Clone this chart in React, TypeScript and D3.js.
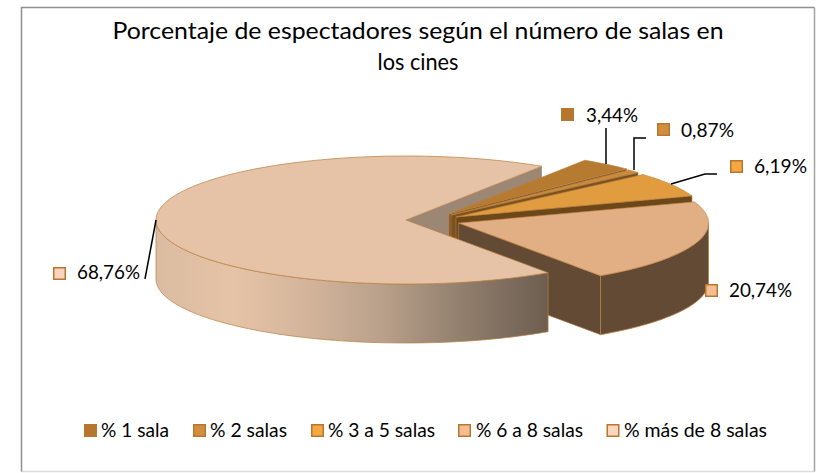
import React from "react";
import * as d3 from "d3";

const categories = ["% 1 sala", "% 2 salas", "% 3 a 5 salas", "% 6 a 8 salas", "% más de 8 salas"];
const values = [3.44, 0.87, 6.19, 20.74, 68.76];
const valueLabels = ["3,44%", "0,87%", "6,19%", "20,74%", "68,76%"];
const titleLines = ["Porcentaje de espectadores según el número de salas en", "los cines"];

const topColors = ["#b67b30", "#c98a3c", "#e29c40", "#e2ae83", "#e6c3a6"];
const wallColors = ["#7a5220", "#7a5220", "#6b4719", "#624a35", "#9c8674"];
const swatchColors = ["#b5762e", "#d18f3e", "#f5a742", "#f6bd92", "#fbd5bd"];

const FONT = "Lato, Carlito, 'Open Sans', sans-serif";
const RX = 250;
const RY = 64;
const DEPTH = 59;
const START = (32.9 * Math.PI) / 180;
const centers: [number, number][] = [
  [449, 214],
  [451, 215],
  [456, 217],
  [458.5, 223],
  [406, 220],
];
const labelBoxes = [
  { sx: 561, sy: 108, tx: 586, ty: 122, w: 52 },
  { sx: 657, sy: 123, tx: 681, ty: 137, w: 53 },
  { sx: 730, sy: 160, tx: 754, ty: 173, w: 53 },
  { sx: 705, sy: 284, tx: 729, ty: 297, w: 63 },
  { sx: 53, sy: 267, tx: 77, ty: 279, w: 63 },
];
const legendBoxes = [
  { sx: 84, tx: 101, w: 68 },
  { sx: 193, tx: 210, w: 77 },
  { sx: 311, tx: 328, w: 107 },
  { sx: 458, tx: 476, w: 107 },
  { sx: 606.5, tx: 624, w: 143 },
];
const titleWidths = [611, 81];
const leaders: [number, number][][] = [
  [[606, 128], [606, 164]],
  [[646, 138], [634, 138], [634, 170]],
  [[717, 174], [705, 174], [671, 184]],
  [[156, 220], [145, 279]],
];

const arcs = d3
  .pie<number>()
  .sort(null)
  .startAngle(START)
  .endAngle(START + 2 * Math.PI)(values);

const line = d3.line<[number, number]>();

function pt(i: number, a: number, dz = 0): [number, number] {
  const [cx, cy] = centers[i];
  return [cx + RX * Math.sin(a), cy - RY * Math.cos(a) + dz];
}
function rim(i: number, a0: number, a1: number, dz = 0): [number, number][] {
  const n = Math.max(2, Math.ceil(Math.abs(a1 - a0) * 40));
  return d3.range(n + 1).map((k) => pt(i, a0 + ((a1 - a0) * k) / n, dz));
}
function topPath(i: number) {
  const a = arcs[i];
  return line([centers[i], ...rim(i, a.startAngle, a.endAngle)]) + "Z";
}
function radialWall(i: number, a: number) {
  const [cx, cy] = centers[i];
  const p = pt(i, a);
  return line([[cx, cy], p, [p[0], p[1] + DEPTH], [cx, cy + DEPTH]]) + "Z";
}
function outerWall(i: number) {
  const a = arcs[i];
  const lo = Math.max(a.startAngle, Math.PI / 2);
  const hi = Math.min(a.endAngle, 1.5 * Math.PI);
  if (hi <= lo) return null;
  return line([...rim(i, lo, hi), ...rim(i, hi, lo, DEPTH)]) + "Z";
}

const EDGE = "#b8803f";

export default function App() {
  const main = 4;
  return (
    <svg
      width={825}
      height={473}
      viewBox="0 0 825 473"
      style={{ position: "absolute", left: 0, top: 0, background: "#fff" }}
      fontFamily={FONT}
    >
      <defs>
        <linearGradient id="mainWall" gradientUnits="userSpaceOnUse" x1={156} x2={547} y1={0} y2={0}>
          <stop offset="0" stopColor="#dbbca2" />
          <stop offset="0.2" stopColor="#e5c3a6" />
          <stop offset="0.39" stopColor="#d3b49b" />
          <stop offset="0.58" stopColor="#b9a08a" />
          <stop offset="0.75" stopColor="#978472" />
          <stop offset="1" stopColor="#6d5e50" />
        </linearGradient>
      </defs>
      <path d="M21.5 471.5H814.5" fill="none" stroke="#dcdcdc" strokeWidth={1.5} />
      <path d="M814.5 471.5V7.5" fill="none" stroke="#a3a3a3" strokeWidth={1.5} />
      <path d="M21.5 471.5V7.5H814.5" fill="none" stroke="#8f8f8f" strokeWidth={1.5} />

      {titleLines.map((t, i) => (
        <text
          key={t}
          x={418}
          y={39 + i * 31}
          textAnchor="middle"
          fontSize={23}
          fill="#000"
          textLength={titleWidths[i]}
          lengthAdjust="spacingAndGlyphs"
        >
          {t}
        </text>
      ))}

      {/* back wall of the big slice */}
      <path d={radialWall(main, arcs[main].endAngle)} fill={wallColors[main]} />

      {[0, 1, 2, 3].map((i) => {
        const o = outerWall(i);
        return (
          <g key={i}>
            <path d={radialWall(i, arcs[i].endAngle)} fill={wallColors[i]} stroke={EDGE} strokeWidth={0.6} />
            {o && <path d={o} fill={wallColors[i]} stroke={EDGE} strokeWidth={0.8} />}
            <path d={topPath(i)} fill={topColors[i]} stroke={EDGE} strokeWidth={0.6} />
          </g>
        );
      })}

      <path d={outerWall(main)!} fill="url(#mainWall)" stroke={EDGE} strokeWidth={0.7} />
      <path d={topPath(main)} fill={topColors[main]} stroke={EDGE} strokeWidth={0.7} />

      {leaders.map((l, i) => (
        <path key={i} d={line(l)!} fill="none" stroke="#000" strokeWidth={1.5} />
      ))}

      {valueLabels.map((t, i) => {
        const b = labelBoxes[i];
        return (
          <g key={t}>
            <rect x={b.sx + 0.75} y={b.sy + 0.75} width={11.5} height={11.5} fill={swatchColors[i]} stroke="#b8772f" strokeWidth={1.5} />
            <text x={b.tx} y={b.ty} fontSize={19} fill="#000" textLength={b.w} lengthAdjust="spacingAndGlyphs">
              {t}
            </text>
          </g>
        );
      })}

      {categories.map((t, i) => {
        const b = legendBoxes[i];
        return (
          <g key={t}>
            <rect x={b.sx + 0.75} y={424.75} width={11.5} height={11.5} fill={swatchColors[i]} stroke="#b8772f" strokeWidth={1.5} />
            <text x={b.tx} y={437} fontSize={19} fill="#000" textLength={b.w} lengthAdjust="spacingAndGlyphs">
              {t}
            </text>
          </g>
        );
      })}
    </svg>
  );
}
